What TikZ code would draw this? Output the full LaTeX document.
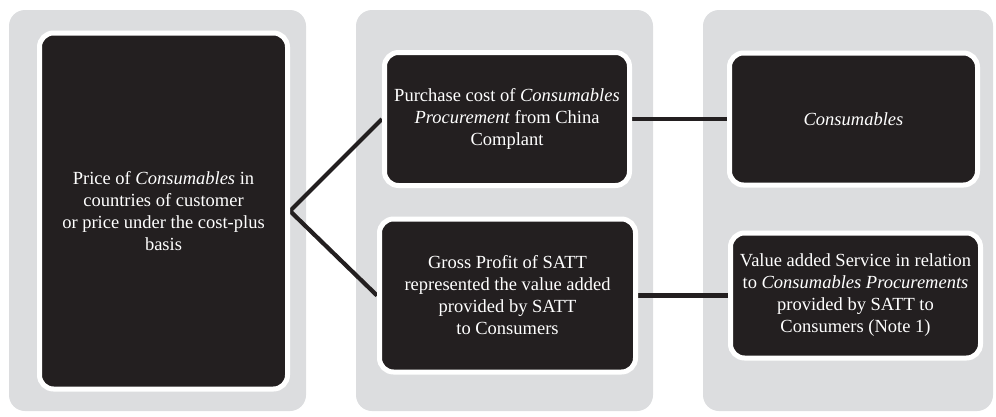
\documentclass[tikz,border=0pt]{standalone}
\usepackage{fontspec}
\setmainfont{Liberation Serif}
\pgfdeclarelayer{background}
\pgfdeclarelayer{links}
\pgfsetlayers{background,links,main}
\definecolor{panelgrey}{RGB}{220,221,223}
\definecolor{boxblack}{RGB}{35,31,32}
\begin{document}
\begin{tikzpicture}[x=1pt,y=-1pt,
  panel/.style={fill=panelgrey,rounded corners=16pt},
  card/.style={draw=white,line width=5pt,fill=boxblack,rounded corners=14pt,
    text=white,align=center,inner sep=2pt,
    font=\fontsize{18.5}{22}\selectfont},
  link/.style={draw=boxblack,line width=4.2pt}]
\useasboundingbox (0,0) rectangle (996,416);

% three grey columns
\begin{pgfonlayer}{background}
  \fill[panel] (9,10) rectangle (306,411);
  \fill[panel] (356,10) rectangle (653,411);
  \fill[panel] (703,10) rectangle (993,411);
\end{pgfonlayer}

% cards
\node[card,minimum width=248pt,minimum height=356pt] (price) at (163.5,211)
  {Price of \textit{Consumables} in\\countries of customer\\or price under the cost-plus\\basis};
\node[card,minimum width=245pt,minimum height=133pt] (cost) at (507,119)
  {Purchase cost of \textit{Consumables}\\\textit{Procurement} from China\\Complant};
\node[card,minimum width=256pt,minimum height=153pt] (profit) at (507.5,295.5)
  {Gross Profit of SATT\\represented the value added\\provided by SATT\\to Consumers};
\node[card,minimum width=248pt,minimum height=132pt] (goods) at (853.5,119)
  {\textit{Consumables}};
\node[card,minimum width=250pt,minimum height=125pt] (service) at (855.5,295.5)
  {Value added Service in relation\\to \textit{Consumables Procurements}\\provided by SATT to\\Consumers (Note 1)};

% connectors
\begin{pgfonlayer}{links}
  \draw[link,line join=miter] (cost.west) -- (price.east) -- (profit.west);
  \draw[link] (cost.east) -- (goods.west);
  \draw[link] (profit.east) -- (service.west);
\end{pgfonlayer}
\end{tikzpicture}
\end{document}
